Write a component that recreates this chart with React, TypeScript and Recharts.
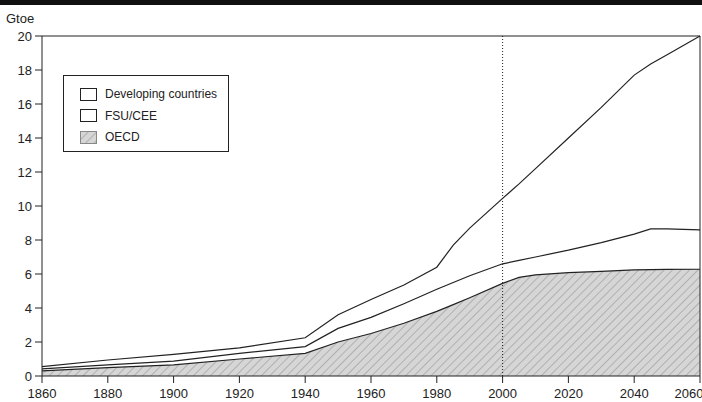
import { AreaChart, Area, XAxis, YAxis, ReferenceLine } from 'recharts';

// Primary energy demand by region, Gtoe (stacked)
const YEARS = [1860, 1880, 1900, 1920, 1940, 1950, 1960, 1970, 1980, 1985, 1990, 2000, 2005, 2010, 2020, 2030, 2040, 2045, 2050, 2060];
const OECD = [0.3, 0.49, 0.65, 1.0, 1.33, 2.0, 2.5, 3.1, 3.8, 4.2, 4.6, 5.45, 5.8, 5.95, 6.08, 6.15, 6.24, 6.26, 6.27, 6.28];
const FSU_CEE = [0.12, 0.16, 0.23, 0.33, 0.4, 0.8, 0.95, 1.15, 1.3, 1.3, 1.3, 1.15, 1.0, 1.05, 1.32, 1.7, 2.11, 2.39, 2.38, 2.32];
const DEVELOPING = [0.13, 0.29, 0.39, 0.32, 0.52, 0.8, 1.05, 1.1, 1.3, 2.2, 2.8, 3.85, 4.5, 5.2, 6.6, 7.95, 9.35, 9.7, 10.25, 11.4];

const X_TICKS = [1860, 1880, 1900, 1920, 1940, 1960, 1980, 2000, 2020, 2040, 2060];
const Y_TICKS = [0, 2, 4, 6, 8, 10, 12, 14, 16, 18, 20];

const LEGEND = ['Developing countries', 'FSU/CEE', 'OECD'];

const data = YEARS.map((year, i) => ({
  year,
  oecd: OECD[i],
  fsu: FSU_CEE[i],
  dev: DEVELOPING[i],
}));

const INK = '#222';
const FONT = '"Liberation Sans", Arial, sans-serif';

// grey stipple with diagonal hatching, like the scanned original
const Hatch = ({ id }: { id: string }) => (
  <pattern id={id} patternUnits="userSpaceOnUse" width="6" height="6" patternTransform="rotate(45)">
    <rect width="6" height="6" fill="#d6d6d6" />
    <line x1="0" y1="0" x2="0" y2="6" stroke="#969696" strokeWidth="1.2" />
  </pattern>
);

const Swatch = ({ hatched }: { hatched?: boolean }) => (
  <svg width={17} height={13} style={{ display: 'block' }}>
    <defs><Hatch id="hatchLegend" /></defs>
    <rect x={0.5} y={0.5} width={16} height={12}
      fill={hatched ? 'url(#hatchLegend)' : '#fff'} stroke={hatched ? '#888' : INK} />
  </svg>
);

export default function App() {
  return (
    <div style={{ position: 'absolute', left: 0, top: 0, width: 702, height: 402, background: '#fff', fontFamily: FONT }}>
      <div style={{ position: 'absolute', left: 0, top: 0, width: 702, height: 5, background: '#111' }} />
      <div style={{ position: 'absolute', left: 6, top: 11, fontSize: 13, color: INK }}>Gtoe</div>

      <AreaChart width={702} height={402} data={data}
        margin={{ top: 36, right: 2, left: 0, bottom: 0 }}>
        <defs><Hatch id="hatchArea" /></defs>
        <XAxis
          dataKey="year" type="number" domain={[1860, 2060]} ticks={X_TICKS}
          height={26} tickSize={7} tickMargin={6}
          tick={{ fontSize: 13, fill: INK, fontFamily: FONT }}
          stroke={INK}
        />
        <YAxis
          type="number" domain={[0, 20]} ticks={Y_TICKS} width={42}
          tickSize={7} tickMargin={3}
          tick={{ fontSize: 13, fill: INK, fontFamily: FONT }}
          stroke={INK}
        />
        <Area type="linear" dataKey="oecd" stackId="a" stroke={INK} strokeWidth={1.2}
          fill="url(#hatchArea)" fillOpacity={1} isAnimationActive={false} />
        <Area type="linear" dataKey="fsu" stackId="a" stroke={INK} strokeWidth={1.2}
          fill="#fff" fillOpacity={0} isAnimationActive={false} />
        <Area type="linear" dataKey="dev" stackId="a" stroke={INK} strokeWidth={1.2}
          fill="#fff" fillOpacity={0} isAnimationActive={false} />
        <ReferenceLine x={2000} stroke={INK} strokeDasharray="1 2" />
        <ReferenceLine y={20} stroke={INK} />
        <ReferenceLine x={2060} stroke={INK} />
      </AreaChart>

      {/* legend box */}
      <div style={{
        position: 'absolute', left: 63, top: 75, width: 166, height: 77,
        border: `1px solid ${INK}`, boxSizing: 'border-box', background: '#fff',
      }}>
        {LEGEND.map((name, i) => (
          <div key={name} style={{
            position: 'absolute', left: 16, top: 11 + i * 21.5,
            display: 'flex', alignItems: 'center', gap: 8, fontSize: 12, color: INK,
          }}>
            <Swatch hatched={i === 2} />
            <span>{name}</span>
          </div>
        ))}
      </div>
    </div>
  );
}
